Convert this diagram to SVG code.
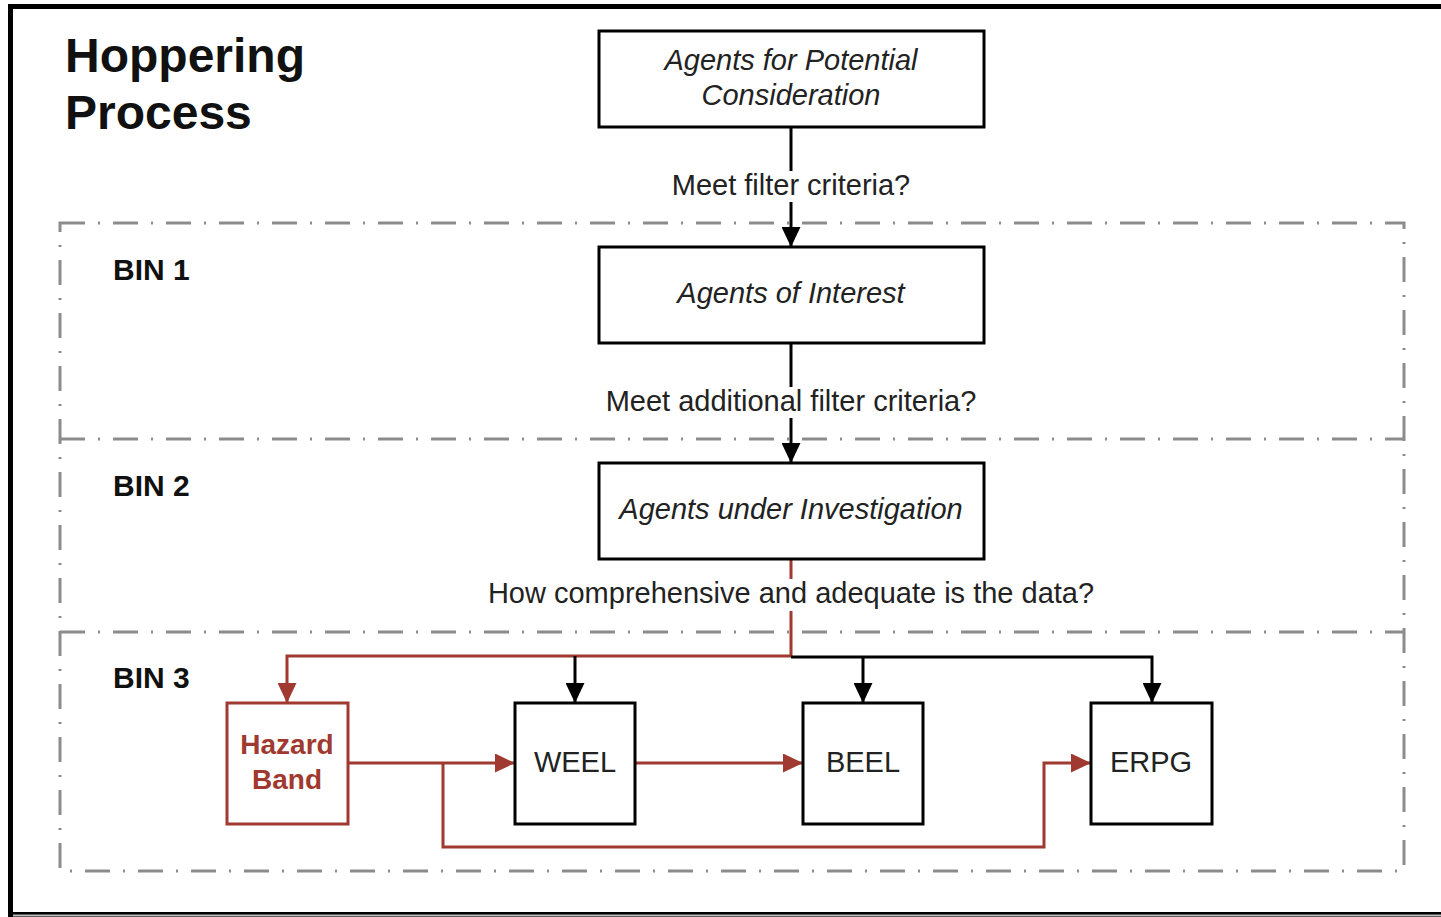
<svg xmlns="http://www.w3.org/2000/svg" width="1441" height="917" viewBox="0 0 1441 917">
<style>
.bin{fill:none;stroke:#8c8c8c;stroke-width:3;stroke-dasharray:25 13 2 13}
.box{fill:#fff;stroke:#000;stroke-width:3}
.rbox{fill:#fff;stroke:#a0392f;stroke-width:3}
.it{font-family:"Liberation Sans",Arial,sans-serif;font-style:italic;font-size:29px;fill:#222;text-anchor:middle}
.lbl{font-family:"Liberation Sans",Arial,sans-serif;font-size:29px;fill:#222;text-anchor:middle}
.bold{font-family:"Liberation Sans",Arial,sans-serif;font-weight:bold;fill:#111}
.blk{fill:none;stroke:#000;stroke-width:3}
.red{fill:none;stroke:#a0392f;stroke-width:3}
</style>
<defs>
<marker id="ab" markerWidth="20" markerHeight="19" refX="19" refY="9.5" orient="auto" markerUnits="userSpaceOnUse"><path d="M0,0 L20,9.5 L0,19 Z" fill="#000"/></marker>
<marker id="ar" markerWidth="20" markerHeight="19" refX="19" refY="9.5" orient="auto" markerUnits="userSpaceOnUse"><path d="M0,0 L20,9.5 L0,19 Z" fill="#a0392f"/></marker>
</defs>
<rect x="0" y="0" width="1441" height="917" fill="#fff"/>
<rect x="10.5" y="6.5" width="1450" height="908" fill="none" stroke="#000" stroke-width="5"/>
<line x1="13" y1="915.5" x2="1441" y2="915.5" stroke="#bbb" stroke-width="2"/>
<g id="title">
<text class="bold" x="65" y="72" font-size="48">Hoppering</text>
<text class="bold" x="65" y="129" font-size="48">Process</text>
</g>
<g id="bins">
<rect class="bin" x="60" y="223" width="1344" height="648"/>
<line class="bin" x1="60" y1="439" x2="1404" y2="439"/>
<line class="bin" x1="60" y1="632" x2="1404" y2="632"/>
<text class="bold" x="113" y="280" font-size="30">BIN 1</text>
<text class="bold" x="113" y="496" font-size="30">BIN 2</text>
<text class="bold" x="113" y="688" font-size="30">BIN 3</text>
</g>
<g id="connectors">
<line class="blk" x1="791" y1="127" x2="791" y2="246" marker-end="url(#ab)"/>
<line class="blk" x1="791" y1="343" x2="791" y2="462" marker-end="url(#ab)"/>
<polyline class="red" points="791,559 791,656 287,656 287,702" marker-end="url(#ar)"/>
<polyline class="blk" points="791,657 1152,657 1152,702" marker-end="url(#ab)"/>
<line class="blk" x1="863" y1="657" x2="863" y2="702" marker-end="url(#ab)"/>
<line class="blk" x1="575" y1="656" x2="575" y2="702" marker-end="url(#ab)"/>
<line class="red" x1="348" y1="763" x2="514" y2="763" marker-end="url(#ar)"/>
<line class="red" x1="635" y1="763" x2="802" y2="763" marker-end="url(#ar)"/>
<polyline class="red" points="443,763 443,847 1044,847 1044,763 1090,763" marker-end="url(#ar)"/>
<rect x="666" y="171" width="250" height="31" fill="#fff"/>
<text class="lbl" x="791" y="195">Meet filter criteria?</text>
<rect x="598" y="387" width="386" height="31" fill="#fff"/>
<text class="lbl" x="791" y="411">Meet additional filter criteria?</text>
<rect x="480" y="579" width="622" height="32" fill="#fff"/>
<text class="lbl" x="791" y="603">How comprehensive and adequate is the data?</text>
</g>
<g id="node-apc">
<rect class="box" x="599" y="31" width="385" height="96"/>
<text class="it" x="791" y="70">Agents for Potential</text>
<text class="it" x="791" y="105">Consideration</text>
</g>
<g id="node-aoi">
<rect class="box" x="599" y="247" width="385" height="96"/>
<text class="it" x="791" y="303">Agents of Interest</text>
</g>
<g id="node-aui">
<rect class="box" x="599" y="463" width="385" height="96"/>
<text class="it" x="791" y="519">Agents under Investigation</text>
</g>
<g id="node-hazard">
<rect class="rbox" x="227" y="703" width="121" height="121"/>
<text class="bold" x="287" y="754" font-size="28" text-anchor="middle" style="fill:#a0392f">Hazard</text>
<text class="bold" x="287" y="789" font-size="28" text-anchor="middle" style="fill:#a0392f">Band</text>
</g>
<g id="node-weel">
<rect class="box" x="515" y="703" width="120" height="121"/>
<text class="lbl" x="575" y="772">WEEL</text>
</g>
<g id="node-beel">
<rect class="box" x="803" y="703" width="120" height="121"/>
<text class="lbl" x="863" y="772">BEEL</text>
</g>
<g id="node-erpg">
<rect class="box" x="1091" y="703" width="121" height="121"/>
<text class="lbl" x="1151" y="772">ERPG</text>
</g>
</svg>
